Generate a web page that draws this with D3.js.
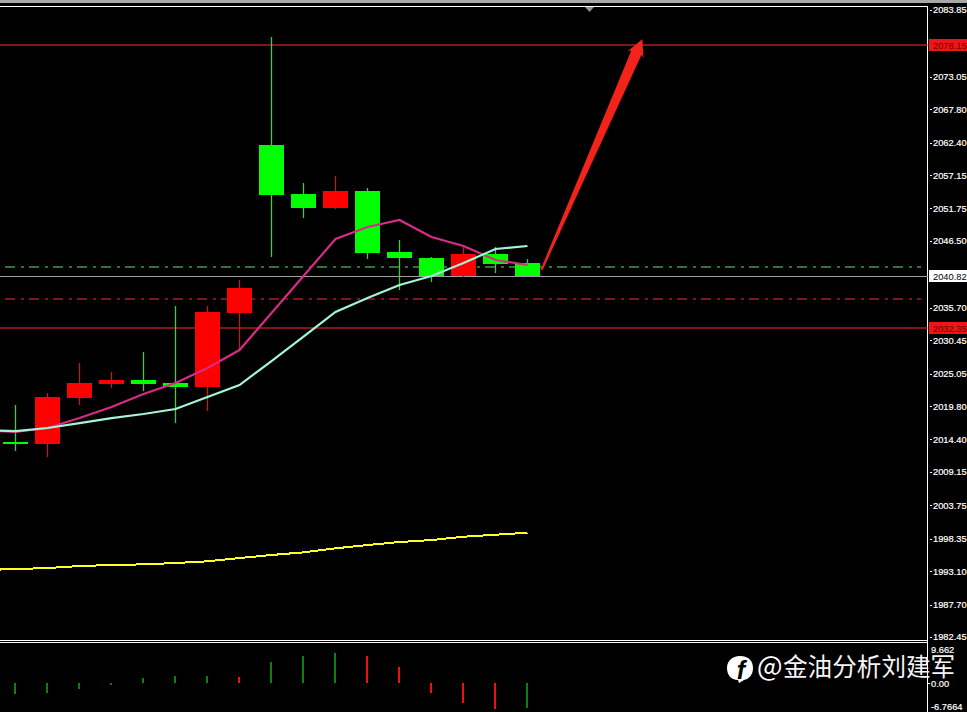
<!DOCTYPE html>
<html><head><meta charset="utf-8">
<script src="https://cdn.jsdelivr.net/npm/d3@7/dist/d3.min.js"></script>
<style>html,body{margin:0;padding:0;background:#000;overflow:hidden}svg{display:block}</style>
</head><body><svg id="c" width="967" height="712"></svg>
<script>
const opens  = [2013.98,2013.66,2021.10,2023.36,2024.01,2023.52,2022.88,2034.84,2062.02,2054.09,2051.83,2054.58,2044.71,2043.74,2040.83,2044.39,2042.93];
const closes = [2013.66,2021.26,2023.52,2024.01,2023.36,2022.88,2035.01,2038.89,2053.93,2051.83,2054.58,2044.55,2043.74,2040.83,2044.39,2042.77,2040.83];
const highs  = [2019.96,2021.91,2026.76,2025.30,2028.54,2035.98,2035.98,2040.18,2079.48,2055.87,2057.00,2055.06,2046.65,2043.90,2045.52,2045.52,2043.58];
const lows   = [2012.53,2011.55,2019.96,2022.71,2022.23,2017.05,2018.99,2028.86,2043.90,2050.21,2051.67,2043.58,2038.56,2039.86,2040.67,2041.31,2040.83];
// moving averages, first value sits one bar left of the first candle
const maPink   = [2015.92,2015.60,2016.25,2017.86,2019.64,2021.74,2023.52,2025.95,2028.86,2034.84,2040.83,2046.81,2048.75,2049.89,2047.14,2045.68,2043.42,2042.61];
const maTeal   = [2015.92,2015.76,2016.25,2017.05,2017.86,2018.51,2019.32,2021.26,2023.20,2027.08,2031.04,2035.01,2037.27,2039.37,2040.83,2042.93,2045.20,2045.68];
const maYellow = [1993.28,1993.44,1993.60,1993.93,1994.09,1994.20,1994.41,1994.69,1995.22,1995.71,1996.14,1996.79,1997.32,1997.81,1998.13,1998.67,1998.99,1999.31];
const oscValues = [-2.86,-2.60,-1.56,-0.52,1.30,1.82,1.82,1.56,5.47,7.03,7.81,7.03,4.17,-2.60,-5.21,-6.77,-6.51];
const oscColors = ["g","g","g","g","g","g","g","r","g","g","g","r","r","r","r","r","g"];
const priceTicks = [2083.85,2073.05,2067.80,2062.40,2057.15,2051.75,2046.50,2035.70,2030.45,2025.05,2019.80,2014.40,2009.15,2003.75,1998.35,1993.10,1987.70,1982.45];
const redLevels = [2078.15,2032.35];
const currentPrice = 2040.82;
const dashGreen = 2042.28, dashRed = 2037.11;
const oscLabels = ["9.662","0.00","-6.7664"];
const arrowFrom = [16.44,2041.80], arrowTo = [19.59,2079.16];
const watermarkAt = "@";
const watermark = "金油分析刘建军";

const svg = d3.select("#c");
const W = 967, H = 712, axisX = 927.5;
const x = d3.scaleLinear().domain([0,16]).range([15.5,527.5]);
const y = d3.scaleLinear().domain([2083.85,1982.45]).range([10,637]);
const yo = d3.scaleLinear().domain([0,-6.77]).range([683,709]);
const FONT = "'Liberation Sans',Arial,sans-serif";
const GREEN="#00ff00", RED="#ff0000";
const LW = 1.4;

svg.append("rect").attr("width",W).attr("height",H).attr("fill","#000");
// top strip and frame
svg.append("rect").attr("x",0).attr("y",0).attr("width",W).attr("height",3).attr("fill","#a8a8a8");
const frame = svg.append("g").attr("shape-rendering","crispEdges").attr("stroke","#fff").attr("stroke-width",1);
frame.append("line").attr("x1",0).attr("x2",axisX).attr("y1",6.5).attr("y2",6.5);
frame.append("line").attr("x1",axisX).attr("x2",axisX).attr("y1",6).attr("y2",H);
frame.append("line").attr("x1",0).attr("x2",axisX).attr("y1",640.5).attr("y2",640.5);
frame.append("line").attr("x1",0).attr("x2",axisX).attr("y1",642.5).attr("y2",642.5);
// shift marker
svg.append("path").attr("d",d3.line()([[585,7],[594,7],[589.5,12]])+"Z").attr("fill","#8f9396");

// levels
const lv = svg.append("g");
redLevels.forEach(v=>lv.append("line").attr("x1",0).attr("x2",axisX).attr("y1",Math.round(y(v))).attr("y2",Math.round(y(v))).attr("stroke","#b01c1c").attr("stroke-width",LW));
lv.append("line").attr("x1",0).attr("x2",axisX).attr("y1",Math.round(y(currentPrice))+.5).attr("y2",Math.round(y(currentPrice))+.5).attr("stroke","#a0a0a0").attr("shape-rendering","crispEdges");
[[dashGreen,"#3f9a3f"],[dashRed,"#a82020"]].forEach(([v,c])=>lv.append("line").attr("x1",5).attr("x2",921)
  .attr("y1",Math.round(y(v))).attr("y2",Math.round(y(v))).attr("stroke",c).attr("stroke-width",LW).attr("stroke-dasharray","10 6 3 5"));

// candles
const bars = d3.range(opens.length).map(i=>({i,o:opens[i],c:closes[i],h:highs[i],l:lows[i]}));
const cg = svg.append("g");
cg.selectAll("line").data(bars).join("line")
  .attr("x1",d=>x(d.i)).attr("x2",d=>x(d.i)).attr("y1",d=>Math.round(y(d.h))).attr("y2",d=>Math.round(y(d.l)))
  .attr("stroke",d=>d.c>d.o?"#b82020":"#45c845").attr("stroke-width",1.3);
cg.selectAll("rect").data(bars).join("rect").attr("shape-rendering","crispEdges")
  .attr("x",d=>x(d.i)-12.5).attr("width",25)
  .attr("y",d=>Math.round(y(Math.max(d.o,d.c))))
  .attr("height",d=>Math.max(2,Math.round(y(Math.min(d.o,d.c)))-Math.round(y(Math.max(d.o,d.c)))))
  .attr("fill",d=>d.c>d.o?RED:GREEN);

// moving averages
const line = d3.line().x((d,i)=>x(i-1)).y(d=>y(d));
[[maYellow,"#ffff2a",2,"crispEdges"],[maPink,"#d92a86",2.2,"auto"],[maTeal,"#a2f5d8",2.2,"auto"]].forEach(([s,c,w,r])=>
  svg.append("path").attr("d",line(s)).attr("fill","none").attr("stroke",c).attr("stroke-width",w).attr("shape-rendering",r));

// arrow built from its two end points in chart units
(function(){
  const x0=x(arrowFrom[0]),y0=y(arrowFrom[1]),x1=x(arrowTo[0]),y1=y(arrowTo[1]);
  const dx=x1-x0,dy=y1-y0,len=Math.hypot(dx,dy),ux=dx/len,uy=dy/len,nx=-uy,ny=ux;
  const at=(t,o)=>[x0+ux*t+nx*o,y0+uy*t+ny*o];
  const head=len-15;
  svg.append("path").attr("fill","#f2231a").attr("d",d3.line()([
    at(0,-1),at(head,-5.5),at(head-2,-8.5),at(len,0),at(head-2,8.5),at(head,5.5),at(0,1)])+"Z");
})();

// oscillator
const og = svg.append("g").attr("shape-rendering","crispEdges");
og.selectAll("rect").data(oscValues).join("rect")
  .attr("x",(d,i)=>x(i)-1.5).attr("width",2)
  .attr("y",d=>Math.min(yo(d),yo(0))).attr("height",d=>Math.abs(yo(d)-yo(0)))
  .attr("fill",(d,i)=>oscColors[i]==="g"?"#0f7f14":"#ee1111");

// price axis
const FS = 9.3;
const ax = svg.append("g").attr("transform",`translate(${axisX},0)`)
  .call(d3.axisRight(y).tickValues(priceTicks).tickFormat(d3.format(".2f")).tickSize(4).tickPadding(1.5));
ax.select(".domain").remove();
ax.selectAll("line").attr("stroke","#fff").attr("x1",2).attr("x2",4).attr("shape-rendering","crispEdges");
ax.selectAll("text").attr("fill","#fff").attr("stroke","#fff").attr("stroke-width",0.2).attr("font-family",FONT).attr("font-size",FS);

function tag(v,bg,fg){
  const yy=Math.round(y(v));
  svg.append("rect").attr("x",929).attr("y",yy-6).attr("width",38).attr("height",12).attr("fill",bg);
  svg.append("text").attr("x",933).attr("y",yy+3.5).attr("fill",fg).attr("font-family",FONT).attr("font-size",FS).text(v.toFixed(2));
}
redLevels.forEach(v=>tag(v,"#f01414","#6a0000"));
tag(currentPrice,"#fff","#000");

// oscillator axis labels
[[oscLabels[0],649],[oscLabels[1],683],[oscLabels[2],706]].forEach(([t,py])=>{
  svg.append("text").attr("x",931).attr("y",py+3.5).attr("fill","#fff").attr("stroke","#fff").attr("stroke-width",0.2).attr("font-family",FONT).attr("font-size",FS).text(t);
});
svg.append("line").attr("x1",928).attr("x2",930).attr("y1",683.5).attr("y2",683.5).attr("stroke","#fff").attr("shape-rendering","crispEdges");

// watermark
const wm = svg.append("g");
wm.append("path").attr("fill","#fff").attr("d","M740 656 C749 656 753 661 753 668 C753 675 749 679 744 680 L739 683 L738 680 C731 680 727 675 727 668 C727 661 732 656 740 656 Z");
wm.append("text").attr("x",741).attr("y",679).attr("text-anchor","middle").attr("font-family","'Liberation Sans',sans-serif").attr("font-weight","bold").attr("font-style","italic").attr("font-size",25).attr("fill","#000").text("f");
wm.append("text").attr("x",757).attr("y",676).attr("font-family","'Noto Sans CJK SC',sans-serif").attr("font-size",27).attr("fill","#fff").text(watermarkAt);
wm.append("text").attr("x",783).attr("y",676).attr("font-family","'Noto Sans CJK SC',sans-serif").attr("font-size",24.6).attr("fill","#f4f4f4").text(watermark);
</script></body></html>
